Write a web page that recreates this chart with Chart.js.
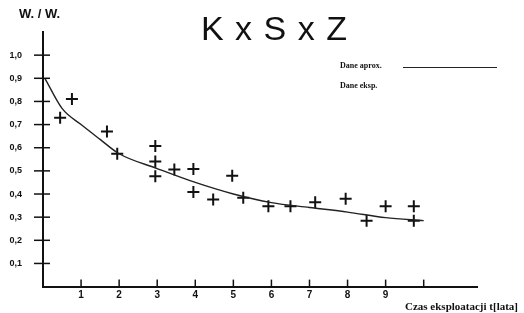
<!DOCTYPE html>
<html>
<head>
<meta charset="utf-8">
<script src="https://cdn.jsdelivr.net/npm/chart.js@4/dist/chart.umd.min.js"></script>
<style>
  html, body { margin: 0; padding: 0; background: #fff; }
  #wrap { position: relative; width: 524px; height: 313px; overflow: hidden; }
  canvas { position: absolute; left: 0; top: 0; }
  .t { position: absolute; color: #111; white-space: nowrap; }
</style>
</head>
<body>
<div id="wrap">
  <canvas id="c" width="524" height="313"></canvas>
  <div class="t" style="left:201px;top:9px;font:34px 'Liberation Sans',Arial,sans-serif;letter-spacing:1px;">K x S x Z</div>
  <div class="t" style="left:19px;top:6px;font:bold 13px 'Liberation Sans',Arial,sans-serif;">W. / W.</div>
  <div class="t" style="left:340px;top:61px;font:bold 8px 'Liberation Serif',serif;">Dane aprox.</div>
  <div style="position:absolute;left:403px;top:67px;width:94px;height:1px;background:#222;"></div>
  <div class="t" style="left:340px;top:81px;font:bold 8px 'Liberation Serif',serif;">Dane eksp.</div>
  <div class="t" style="left:405px;top:300px;font:bold 11px 'Liberation Serif',serif;">Czas eksploatacji t[lata]</div>
</div>
<script>
// Fitted curve (W/W0 vs time)
const curveX = [0.05, 0.5, 1, 1.5, 2, 3, 4, 5, 6, 7, 8, 9, 10];
const curveY = [0.90, 0.77, 0.70, 0.636, 0.574, 0.51, 0.45, 0.40, 0.363, 0.342, 0.322, 0.298, 0.285];
// Measured points (crosses)
const measX = [0.76, 0.45, 1.68, 1.95, 2.95, 2.95, 2.95, 3.45, 3.95, 3.95, 4.47, 4.97, 5.26, 5.92, 6.5, 7.15, 7.95, 8.5, 9.0, 9.74, 9.74];
const measY = [0.81, 0.73, 0.67, 0.574, 0.607, 0.54, 0.477, 0.506, 0.508, 0.409, 0.376, 0.479, 0.384, 0.347, 0.347, 0.364, 0.38, 0.285, 0.347, 0.347, 0.285];
const yTicks = [0.1, 0.2, 0.3, 0.4, 0.5, 0.6, 0.7, 0.8, 0.9, 1.0];
const xTicks = [1, 2, 3, 4, 5, 6, 7, 8, 9, 10];
const xTickLabels = ['1', '2', '3', '4', '5', '6', '7', '8', '9', ''];

const curvePts = curveX.map((x, i) => ({x, y: curveY[i]}));
const measPts = measX.map((x, i) => ({x, y: measY[i]}));

const tickMarks = {
  id: 'tickMarks',
  afterDraw(chart) {
    const ctx = chart.ctx, xs = chart.scales.x, ys = chart.scales.y;
    ctx.save();
    ctx.strokeStyle = '#111';
    ctx.lineWidth = 1.5;
    const ax = xs.getPixelForValue(0);
    yTicks.forEach(v => {
      const py = ys.getPixelForValue(v);
      ctx.beginPath(); ctx.moveTo(ax - 9, py); ctx.lineTo(ax + 7, py); ctx.stroke();
    });
    const ay = ys.getPixelForValue(0);
    xTicks.forEach(v => {
      const px = xs.getPixelForValue(v);
      ctx.beginPath(); ctx.moveTo(px, ay - 7); ctx.lineTo(px, ay); ctx.stroke();
    });
    ctx.restore();
  }
};

new Chart(document.getElementById('c'), {
  type: 'scatter',
  data: {
    datasets: [
      {
        data: curvePts, showLine: true, borderColor: '#222', borderWidth: 1.4,
        pointRadius: 0, tension: 0.4, cubicInterpolationMode: 'monotone', fill: false
      },
      {
        data: measPts, showLine: false, pointStyle: 'cross', pointRadius: 6,
        borderColor: '#111', borderWidth: 2, backgroundColor: '#111'
      }
    ]
  },
  options: {
    responsive: false, animation: false, devicePixelRatio: 1,
    layout: { padding: { top: 32, right: 47, left: 0, bottom: 0 } },
    plugins: { legend: { display: false }, tooltip: { enabled: false } },
    scales: {
      x: {
        type: 'linear', min: 0, max: 11.4,
        afterFit: s => { s.height = 15; },
        afterBuildTicks: s => { s.ticks = xTicks.map(v => ({value: v})); },
        grid: { display: false, drawTicks: false },
        border: { display: true, color: '#111', width: 2 },
        ticks: {
          padding: 3, color: '#111', autoSkip: false, maxRotation: 0,
          font: { family: 'Liberation Sans', size: 10, weight: 'bold' },
          callback: v => { const i = xTicks.indexOf(v); return i >= 0 ? xTickLabels[i] : ''; }
        }
      },
      y: {
        type: 'linear', min: 0, max: 1.1,
        afterFit: s => { s.width = 43; },
        afterBuildTicks: s => { s.ticks = yTicks.map(v => ({value: v})); },
        grid: { display: false, drawTicks: false },
        border: { display: true, color: '#111', width: 2 },
        ticks: {
          padding: 21, color: '#111', autoSkip: false,
          font: { family: 'Liberation Sans', size: 9, weight: 'bold' },
          callback: v => v.toFixed(1).replace('.', ',')
        }
      }
    }
  },
  plugins: [tickMarks]
});
</script>
</body>
</html>
